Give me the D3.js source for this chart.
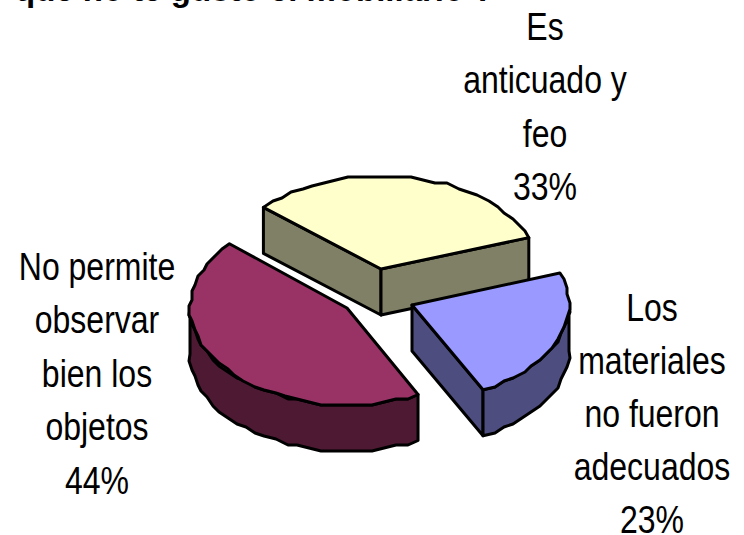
<!DOCTYPE html>
<html><head><meta charset="utf-8">
<script src="https://cdn.jsdelivr.net/npm/d3@7"></script>
<style>html,body{margin:0;padding:0;background:#fff;overflow:hidden}svg{display:block}text{font-family:"Liberation Sans",Arial,sans-serif;fill:#000}</style>
</head><body><svg id="c" width="744" height="535"></svg>
<script>
const titleText = "que no te gusto el mobiliario ?";
const categories = ["Es anticuado y feo", "Los materiales no fueron adecuados", "No permite observar bien los objetos"];
const values = [33, 23, 44];
const labelLines = [
  ["Es","anticuado y","feo","33%"],
  ["Los","materiales","no fueron","adecuados","23%"],
  ["No permite","observar","bien los","objetos","44%"]
];
const topColors = ["#FFFFCC","#9999FF","#993366"];
const wallColors = ["#808066","#4D4D80","#4D1933"];
const apexes = [[381,269],[412,305],[347,308]];
const radiiY = [93,95,97];
const labelPos = [[545,40,53.3],[652,321,53],[97,280,53.4]];

const rx=157, depth=46, snap=3, step=4.5*Math.PI/180;
const svg=d3.select("#c");
const pie=d3.pie().sort(null).startAngle(-48.5*Math.PI/180).endAngle(311.5*Math.PI/180);
const arcs=pie(values);
const line=d3.line();
const rad=d3.scaleLinear().domain([0,1]);

function pt(c,ry,a,exact){
  let x=c[0]+rx*Math.sin(a), y=c[1]-ry*Math.cos(a);
  if(!exact){x=Math.round(x/snap)*snap;y=Math.round(y/snap)*snap;}
  return [x,y];
}
function arcPts(c,ry,a,b){
  const n=Math.max(1,Math.round((b-a)/step)), s=rad.range([a,b]);
  return d3.range(n+1).map(i=>pt(c,ry,s(i/n),i===0||i===n));
}
const down=p=>[p[0],p[1]+depth];
const g=svg.append("g");
const style=(sel,fill)=>sel.attr("fill",fill).attr("stroke","#000").attr("stroke-width",3).attr("stroke-linejoin","round");

arcs.forEach((d,i)=>{
  const c=apexes[i], ry=radiiY[i], a=d.startAngle, b=d.endAngle;
  const wall=wallColors[i];
  const quad=(p,q)=>style(g.append("path").attr("d",line([p,q,down(q),down(p)])+"Z"),wall);
  if(Math.sin(a)<0) quad(c,pt(c,ry,a,true));
  if(Math.sin(b)>0) quad(c,pt(c,ry,b,true));
  const lo=Math.max(a,Math.PI/2), hi=Math.min(b,3*Math.PI/2);
  if(hi>lo){
    const pts=arcPts(c,ry,lo,hi);
    style(g.append("path").attr("d",line(pts.concat(pts.map(down).reverse()))+"Z"),wall);
  }
  style(g.append("path").attr("d",line([c].concat(arcPts(c,ry,a,b)))+"Z"),topColors[i]);
});

labelLines.forEach((ls,i)=>{
  const [x,y,dy]=labelPos[i];
  ls.forEach((t,j)=>svg.append("text")
    .attr("transform",`translate(${x},${y+j*dy}) scale(0.81,1)`)
    .attr("text-anchor","middle").attr("font-size",39.5).text(t));
});
svg.append("text").attr("x",15).attr("y",1).attr("font-size",33).attr("font-weight","bold").text(titleText);
</script></body></html>
